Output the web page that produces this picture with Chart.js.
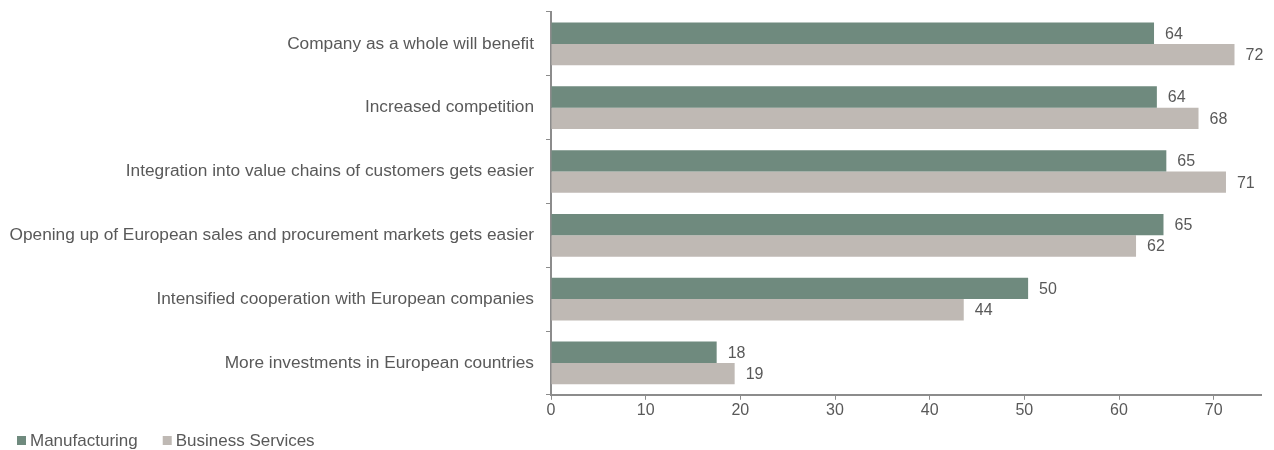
<!DOCTYPE html>
<html>
<head>
<meta charset="utf-8">
<script src="https://cdn.jsdelivr.net/npm/chart.js@4.4.1/dist/chart.umd.min.js"></script>
<style>
  html, body { margin: 0; padding: 0; background: #fff; }
  #wrap { width: 1274px; height: 450px; }
</style>
</head>
<body>
<div id="wrap"><canvas id="myChart" width="1274" height="450"></canvas></div>
<script>
const categories = [
  'Company as a whole will benefit',
  'Increased competition',
  'Integration into value chains of customers gets easier',
  'Opening up of European sales and procurement markets gets easier',
  'Intensified cooperation with European companies',
  'More investments in European countries'
];
const manufacturing = [63.7, 64.0, 65.0, 64.7, 50.4, 17.5];
const businessServices = [72.2, 68.4, 71.3, 61.8, 43.6, 19.4];
const xTicks = [0, 10, 20, 30, 40, 50, 60, 70];

const textColor = '#595959';
const axisColor = '#8c8c8c';
const fontFamily = '"Liberation Sans", Arial, sans-serif';

// value labels at the end of each bar
const valueLabels = {
  id: 'valueLabels',
  afterDatasetsDraw(chart) {
    const ctx = chart.ctx;
    ctx.save();
    ctx.font = '16px ' + fontFamily;
    ctx.fillStyle = textColor;
    ctx.textBaseline = 'middle';
    ctx.textAlign = 'left';
    chart.data.datasets.forEach((ds, i) => {
      chart.getDatasetMeta(i).data.forEach((bar, j) => {
        ctx.fillText(Math.round(ds.data[j]), bar.x + 11, bar.y + 1);
      });
    });
    ctx.restore();
  }
};

// small legend in the bottom left corner, squares close to the text
const bottomLegend = {
  id: 'bottomLegend',
  afterDraw(chart) {
    const ctx = chart.ctx;
    ctx.save();
    ctx.font = '17px ' + fontFamily;
    ctx.textBaseline = 'middle';
    ctx.textAlign = 'left';
    let x = 17;
    const y = 441;
    chart.data.datasets.forEach(ds => {
      ctx.fillStyle = ds.backgroundColor;
      ctx.fillRect(x, y - 5, 9, 9);
      ctx.fillStyle = textColor;
      ctx.fillText(ds.label, x + 13, y);
      x += 13 + ctx.measureText(ds.label).width + 25;
    });
    ctx.restore();
  }
};

new Chart(document.getElementById('myChart').getContext('2d'), {
  type: 'bar',
  data: {
    labels: categories,
    datasets: [
      {
        label: 'Manufacturing',
        data: manufacturing,
        backgroundColor: '#6f8a7e',
        barPercentage: 1,
        categoryPercentage: 0.67
      },
      {
        label: 'Business Services',
        data: businessServices,
        backgroundColor: '#bfb9b4',
        barPercentage: 1,
        categoryPercentage: 0.67
      }
    ]
  },
  options: {
    indexAxis: 'y',
    responsive: false,
    animation: false,
    layout: { padding: { top: 12, right: 13, left: 0, bottom: 29 } },
    plugins: {
      legend: { display: false },
      tooltip: { enabled: false }
    },
    scales: {
      x: {
        min: 0,
        max: 75,
        afterBuildTicks: (axis) => { axis.ticks = xTicks.map(v => ({ value: v })); },
        afterFit: (axis) => { axis.paddingLeft = 0; axis.paddingRight = 0; },
        border: { color: axisColor, width: 2 },
        grid: { drawOnChartArea: false, tickLength: 5, color: axisColor },
        ticks: {
          color: textColor,
          padding: 1,
          font: { size: 16, family: fontFamily }
        }
      },
      y: {
        afterFit: (axis) => { axis.width = 551; axis.paddingTop = 0; axis.paddingBottom = 0; },
        border: { color: axisColor, width: 2 },
        grid: { offset: true, drawOnChartArea: false, tickLength: 5, color: axisColor },
        ticks: {
          color: textColor,
          padding: 12,
          font: { size: 17.3, family: fontFamily }
        }
      }
    }
  },
  plugins: [valueLabels, bottomLegend]
});
</script>
</body>
</html>
